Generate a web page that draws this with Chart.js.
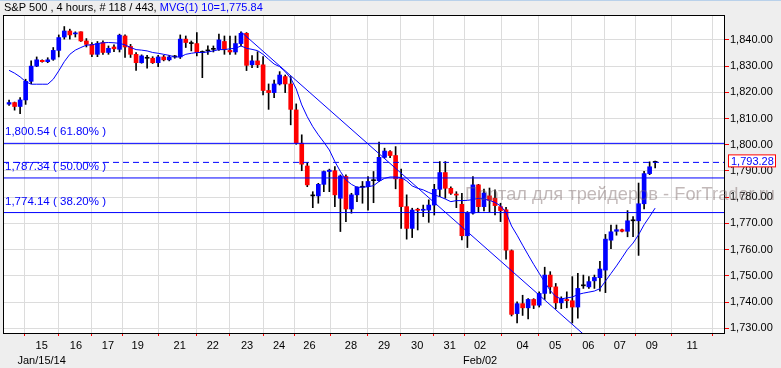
<!DOCTYPE html>
<html>
<head>
<meta charset="utf-8">
<script src="https://cdn.jsdelivr.net/npm/chart.js@4.4.1/dist/chart.umd.min.js"></script>
<style>
  html, body { margin: 0; padding: 0; background: #eeeeee; }
  canvas { display: block; }
</style>
</head>
<body>
<canvas id="spxChart" width="781" height="368"></canvas>
<script>
// S&P 500, 4 hour candles (118 bars)
const opens = [
  1815.5, 1816.1, 1814.6, 1817.1, 1824.2, 1830.0, 1832.2, 1831.7, 1832.6, 1836.0,
  1841.1, 1843.4, 1842.3, 1843.1, 1839.6, 1838.3, 1834.5, 1839.0, 1835.2, 1837.3,
  1836.4, 1841.5, 1837.5, 1834.5, 1831.3, 1833.0, 1833.0, 1831.3, 1833.5, 1832.4,
  1833.5, 1833.5, 1840.3, 1838.6, 1838.6, 1835.2, 1835.8, 1836.4, 1836.4, 1839.4,
  1836.0, 1835.4, 1838.6, 1842.5, 1830.5, 1832.0, 1830.5, 1820.7, 1819.9, 1823.2,
  1826.0, 1823.2, 1813.3, 1800.6, 1791.9, 1780.5, 1780.5, 1784.9, 1789.8, 1790.1,
  1779.6, 1787.9, 1775.5, 1780.9, 1783.8, 1784.0, 1786.3, 1786.3, 1795.2, 1797.4,
  1795.9, 1787.0, 1776.4, 1768.1, 1775.4, 1775.0, 1775.1, 1777.0, 1783.0, 1789.4,
  1783.4, 1781.2, 1777.3, 1765.3, 1773.9, 1784.7, 1776.4, 1780.5, 1779.6, 1776.4,
  1775.2, 1759.6, 1735.6, 1739.4, 1737.8, 1741.0, 1738.8, 1743.3, 1750.3, 1745.8,
  1739.7, 1741.0, 1740.5, 1738.1, 1746.2, 1745.8, 1748.1, 1749.3, 1752.2, 1763.6,
  1767.0, 1767.6, 1767.0, 1771.0, 1771.0, 1777.5, 1789.0, 1793.28
];
const highs = [
  1817.0, 1816.3, 1818.0, 1825.0, 1832.0, 1833.5, 1832.4, 1833.2, 1837.1, 1841.9,
  1845.1, 1844.1, 1843.1, 1843.1, 1840.5, 1839.0, 1839.4, 1839.6, 1837.7, 1838.1,
  1842.2, 1841.9, 1838.3, 1835.2, 1834.3, 1834.1, 1833.6, 1834.1, 1834.1, 1834.1,
  1834.1, 1841.9, 1841.5, 1839.6, 1842.8, 1835.8, 1837.7, 1837.7, 1842.2, 1841.5,
  1841.5, 1841.5, 1843.1, 1842.8, 1834.0, 1835.5, 1833.6, 1823.2, 1824.7, 1827.9,
  1826.6, 1826.0, 1815.6, 1803.8, 1793.2, 1782.1, 1785.3, 1790.0, 1790.7, 1791.7,
  1788.5, 1788.5, 1781.5, 1784.0, 1786.0, 1787.9, 1789.8, 1801.0, 1798.7, 1797.8,
  1799.3, 1790.7, 1780.9, 1775.8, 1775.8, 1777.0, 1779.0, 1784.9, 1793.6, 1793.6,
  1784.0, 1782.1, 1781.5, 1774.5, 1787.9, 1784.9, 1783.1, 1783.5, 1782.8, 1777.7,
  1776.1, 1759.9, 1740.1, 1742.6, 1741.3, 1741.3, 1743.9, 1753.3, 1751.6, 1747.1,
  1742.0, 1743.9, 1749.7, 1751.0, 1750.3, 1749.7, 1750.3, 1755.5, 1765.8, 1769.4,
  1769.4, 1767.8, 1774.9, 1772.6, 1785.4, 1789.9, 1793.5, 1793.8
];
const lows = [
  1815.0, 1813.2, 1811.9, 1815.4, 1823.3, 1829.8, 1831.5, 1831.3, 1832.2, 1833.5,
  1840.3, 1840.3, 1841.1, 1839.4, 1837.3, 1833.6, 1833.6, 1834.5, 1834.5, 1835.5,
  1835.4, 1833.3, 1833.3, 1828.4, 1831.1, 1829.2, 1831.0, 1829.8, 1832.0, 1832.0,
  1833.0, 1832.9, 1837.1, 1835.8, 1833.9, 1825.6, 1834.5, 1835.4, 1836.0, 1834.5,
  1834.5, 1834.5, 1837.7, 1828.3, 1829.4, 1829.4, 1819.0, 1813.5, 1818.0, 1822.8,
  1819.9, 1807.6, 1800.2, 1790.1, 1784.0, 1776.0, 1777.7, 1782.1, 1782.1, 1776.4,
  1766.9, 1770.7, 1773.9, 1778.3, 1777.7, 1775.1, 1777.9, 1786.0, 1794.9, 1795.1,
  1783.2, 1768.1, 1764.0, 1764.6, 1767.5, 1772.6, 1770.4, 1773.2, 1780.2, 1779.6,
  1781.1, 1776.0, 1763.7, 1760.8, 1773.5, 1774.2, 1774.8, 1774.5, 1773.2, 1770.7,
  1756.4, 1734.7, 1732.0, 1734.9, 1733.6, 1737.5, 1738.1, 1741.0, 1743.3, 1737.5,
  1737.5, 1737.8, 1732.0, 1733.9, 1745.2, 1745.2, 1745.2, 1744.2, 1743.6, 1760.4,
  1765.5, 1766.8, 1764.9, 1764.9, 1757.8, 1775.5, 1788.6, 1791.2
];
const closes = [
  1816.1, 1814.6, 1817.1, 1824.2, 1830.0, 1832.4, 1831.7, 1832.4, 1836.0, 1840.9,
  1843.4, 1841.9, 1842.5, 1839.6, 1838.3, 1834.5, 1838.6, 1835.2, 1836.8, 1836.6,
  1841.8, 1837.3, 1834.5, 1831.3, 1833.9, 1833.0, 1831.3, 1833.5, 1832.4, 1833.5,
  1833.5, 1840.3, 1839.0, 1838.6, 1835.2, 1835.2, 1835.8, 1836.4, 1840.0, 1836.4,
  1835.4, 1838.6, 1842.5, 1830.3, 1832.0, 1830.5, 1820.7, 1819.9, 1823.2, 1826.6,
  1823.2, 1813.5, 1800.6, 1792.6, 1784.7, 1780.5, 1784.9, 1789.8, 1790.3, 1780.9,
  1788.1, 1775.5, 1780.9, 1783.8, 1783.8, 1786.0, 1786.3, 1795.2, 1797.6, 1795.9,
  1787.0, 1776.4, 1768.1, 1775.1, 1775.0, 1775.4, 1777.0, 1783.0, 1789.4, 1783.4,
  1781.5, 1780.8, 1765.3, 1773.9, 1784.7, 1776.4, 1781.6, 1778.8, 1776.8, 1774.9,
  1759.8, 1735.3, 1739.4, 1737.8, 1741.0, 1738.8, 1743.3, 1750.3, 1745.8, 1739.7,
  1741.3, 1740.5, 1738.1, 1745.2, 1746.2, 1747.8, 1749.4, 1752.6, 1764.0, 1766.8,
  1767.6, 1767.0, 1771.0, 1771.0, 1777.5, 1789.0, 1791.6, 1793.28
];
// MVG(1) 10 line
const ma10 = [
  1828.4, 1827.3, 1825.9, 1824.1, 1823.1, 1823.1, 1823.1, 1823.1, 1825.0, 1828.2,
  1831.7, 1834.5, 1836.1, 1837.1, 1838.0, 1838.1, 1838.6, 1838.9, 1839.0, 1838.9,
  1838.7, 1838.1, 1837.1, 1836.3, 1836.1, 1835.8, 1835.2, 1834.9, 1834.5, 1834.1,
  1833.5, 1833.5, 1834.5, 1834.9, 1835.2, 1835.2, 1835.4, 1835.8, 1836.3, 1836.3,
  1836.6, 1836.8, 1837.7, 1836.8, 1836.4, 1835.9, 1834.5, 1832.6, 1830.8, 1829.8,
  1827.9, 1825.4, 1821.3, 1815.2, 1810.7, 1806.9, 1803.8, 1801.0, 1798.0, 1793.6,
  1789.8, 1786.6, 1784.9, 1783.8, 1783.8, 1784.0, 1784.4, 1786.0, 1787.2, 1787.7,
  1787.7, 1787.5, 1786.2, 1784.3, 1783.4, 1782.8, 1781.8, 1780.9, 1780.2, 1779.3,
  1778.3, 1778.7, 1778.7, 1778.8, 1779.1, 1779.6, 1779.3, 1778.8, 1778.0, 1776.7,
  1774.2, 1769.0, 1765.5, 1761.7, 1758.0, 1754.4, 1751.0, 1747.6, 1744.4, 1742.1,
  1741.2, 1741.6, 1741.9, 1742.9, 1743.4, 1743.8, 1744.2, 1745.1, 1748.0, 1750.9,
  1753.8, 1756.9, 1760.1, 1762.5, 1765.7, 1769.5, 1772.6, 1775.84
];
// trend line drawn by the trader (bar index, price)
const trendLine = [{ x: 42, y: 1843.1 }, { x: 105, y: 1725.9 }];

const fibLevels = [1800.54, 1787.34, 1774.14];
const fibLabels = ['1,800.54 ( 61.80% )', '1,787.34 ( 50.00% )', '1,774.14 ( 38.20% )'];
const lastPrice = 1793.28;

const yTicks = [1730, 1740, 1750, 1760, 1770, 1780, 1790, 1800, 1810, 1820, 1830, 1840];
const dayTicks = [5.9, 12.1, 17.9, 23.3, 30.9, 36.9, 43.1, 48.9, 54.4, 61.9,
                  67.9, 73.9, 79.8, 85.3, 93.0, 98.9, 104.9, 110.6, 116.4, 123.7];
const dayLabels = ['15', '16', '17', '19', '21', '22', '23', '24', '26', '28',
                   '29', '30', '31', '02', '04', '05', '06', '07', '09', '11'];
const monthLabels = { 0: 'Jan/15/14', 13: 'Feb/02' };

const xMin = -1.1, xMax = 129.65;
const yMin = 1728.2, yMax = 1849.5;
const FONT = 'Liberation Sans';

const idx = closes.map((c, i) => i);
const bodyColors = idx.map(i => closes[i] > opens[i] ? '#0000ff' : (closes[i] < opens[i] ? '#ff0000' : '#000000'));

const hLine = v => [{ x: xMin, y: v }, { x: xMax, y: v }];
const lineStyle = { type: 'line', pointRadius: 0, borderWidth: 1, tension: 0, fill: false };

const fmt = v => v.toLocaleString('en-US', { minimumFractionDigits: 2, maximumFractionDigits: 2 });

const decor = {
  id: 'decor',
  beforeDraw(chart) {
    const { ctx, chartArea: a } = chart;
    ctx.save();
    ctx.fillStyle = '#eeeeee';
    ctx.fillRect(0, 0, chart.width, chart.height);
    ctx.fillStyle = '#b9d1ea';
    ctx.fillRect(0, 0, chart.width, 1);
    ctx.fillStyle = '#ffffff';
    ctx.fillRect(a.left, a.top, a.right - a.left, a.bottom - a.top);
    ctx.restore();
  },
  afterDraw(chart) {
    const { ctx, chartArea: a } = chart;
    const ys = chart.scales.y;
    ctx.save();
    // frame
    ctx.strokeStyle = '#000000';
    ctx.lineWidth = 1;
    ctx.strokeRect(a.left + 0.5, a.top + 0.5, a.right - a.left - 1, a.bottom - a.top);

    // title
    ctx.font = '11px "' + FONT + '"';
    ctx.textBaseline = 'alphabetic';
    ctx.fillStyle = '#000000';
    const t1 = 'S&P 500 , 4 hours, # 118 / 443, ';
    ctx.fillText(t1, 4, 11);
    ctx.fillStyle = '#0000ff';
    ctx.fillText('MVG(1) 10=1,775.84', 4 + ctx.measureText(t1).width, 11);

    // fibo labels
    ctx.font = '11.5px "' + FONT + '"';
    ctx.fillStyle = '#0000ff';
    fibLevels.forEach((v, k) => {
      ctx.fillText(fibLabels[k], 5, ys.getPixelForValue(v) - 8);
    });

    // last price box
    const py = ys.getPixelForValue(lastPrice);
    ctx.fillStyle = '#ffffff';
    ctx.fillRect(728.5, py - 7.5, 47, 12);
    ctx.strokeStyle = '#ff0000';
    ctx.strokeRect(728.5, py - 7.5, 47, 12);
    ctx.font = '11px "' + FONT + '"';
    ctx.fillStyle = '#0000ff';
    ctx.fillText(fmt(lastPrice), 731, py + 3);

    // watermark, stretched to the width it has in the picture
    const wm = 'Портал для трейдеров - ForTrader.ru';
    ctx.font = '19px "' + FONT + '"';
    const w = ctx.measureText(wm).width;
    ctx.fillStyle = 'rgba(120, 100, 100, 0.45)';
    ctx.translate(465, 200);
    ctx.scale(310 / w, 1);
    ctx.fillText(wm, 0, 0);
    ctx.restore();
  }
};

new Chart(document.getElementById('spxChart'), {
  type: 'bar',
  data: {
    datasets: [
      ...fibLevels.map(v => ({ ...lineStyle, data: hLine(v), borderColor: '#0000ff', order: 1 })),
      { ...lineStyle, data: hLine(lastPrice), borderColor: '#0000ff', borderDash: [6, 4], order: 1 },
      { ...lineStyle, data: trendLine, borderColor: '#0000ff', order: 2 },
      { ...lineStyle, data: idx.map(i => ({ x: i, y: ma10[i] })), borderColor: '#0000ff', order: 2 },
      {
        data: idx.map(i => ({ x: i, y: [opens[i], closes[i]] })),
        backgroundColor: bodyColors,
        barThickness: 4,
        minBarLength: 1,
        grouped: false,
        borderWidth: 0,
        order: 5
      },
      {
        data: idx.map(i => ({ x: i, y: [lows[i], highs[i]] })),
        backgroundColor: '#000000',
        barThickness: 1,
        grouped: false,
        borderWidth: 0,
        order: 6
      }
    ]
  },
  options: {
    responsive: false,
    animation: false,
    events: [],
    layout: { padding: { left: 3, top: 15, right: 0, bottom: 0 } },
    plugins: { legend: { display: false }, tooltip: { enabled: false } },
    scales: {
      x: {
        type: 'linear',
        min: xMin,
        max: xMax,
        offset: false,
        afterBuildTicks: s => { s.ticks = dayTicks.map(v => ({ value: v })); },
        afterFit: s => { s.height = 35; },
        border: { display: false },
        grid: { color: '#dcdcdc', tickColor: '#ff0000', tickLength: 3, drawTicks: true },
        ticks: {
          autoSkip: false,
          maxRotation: 0,
          padding: 3,
          color: '#000000',
          font: { family: FONT, size: 11, lineHeight: 1.35 },
          callback: (v, i) => monthLabels[i] ? [dayLabels[i], monthLabels[i]] : dayLabels[i]
        }
      },
      y: {
        type: 'linear',
        position: 'right',
        min: yMin,
        max: yMax,
        afterBuildTicks: s => { s.ticks = yTicks.map(v => ({ value: v })); },
        afterFit: s => { s.width = 56; },
        border: { display: false },
        grid: { color: '#dcdcdc', tickColor: '#ff0000', tickLength: 4, drawTicks: true },
        ticks: {
          padding: 1,
          color: '#000000',
          font: { family: FONT, size: 11 },
          callback: v => fmt(v)
        }
      }
    }
  },
  plugins: [decor]
});
</script>
</body>
</html>
